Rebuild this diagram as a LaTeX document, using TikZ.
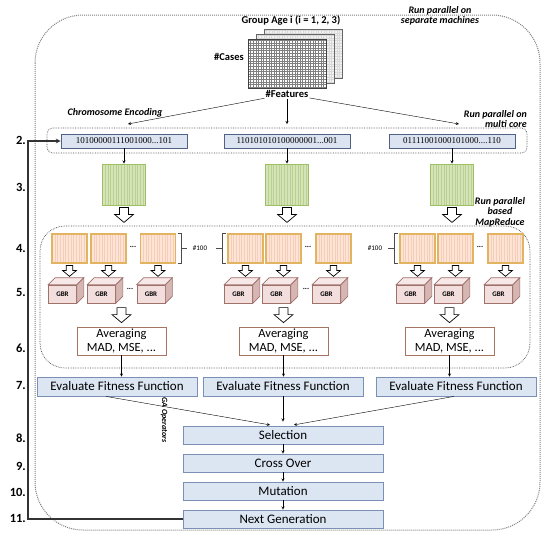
\documentclass[tikz,border=0pt]{standalone}
\usepackage{fontspec}
\setmainfont{Carlito}
\newfontfamily\bitfont{Liberation Serif}
\usetikzlibrary{calc}

\definecolor{chromofill}{HTML}{DCE3F1}
\definecolor{chromoline}{HTML}{4F6283}
\definecolor{evalfill}{HTML}{DCE6F2}
\definecolor{evalline}{HTML}{7A90B5}
\definecolor{greenfill}{HTML}{D5E4B8}
\definecolor{greenline}{HTML}{9FBF66}
\definecolor{greenstripe}{HTML}{B9D08E}
\definecolor{orangefill}{HTML}{FDE4D4}
\definecolor{orangeline}{HTML}{E2B461}
\definecolor{orangestripe}{HTML}{F5CDBB}
\definecolor{cubefront}{HTML}{F2DEDD}
\definecolor{cubeside}{HTML}{D6B6B3}
\definecolor{cubeline}{HTML}{A0706B}
\definecolor{avgline}{HTML}{A67461}

\tikzset{
  note/.style={font=\bfseries\itshape\fontsize{10}{10.5}\selectfont, align=center, inner sep=1pt},
  lbl/.style={font=\bfseries\fontsize{10.5}{12}\selectfont, inner sep=1pt},
  steplbl/.style={font=\bfseries\fontsize{12.5}{14}\selectfont, anchor=east, inner sep=0pt},
  chromo/.style={draw=chromoline, fill=chromofill, line width=0.8pt, minimum width=126pt,
    minimum height=14pt, inner sep=0pt, font=\bitfont\fontsize{9}{10}\selectfont},
  evalbox/.style={draw=evalline, fill=evalfill, line width=0.8pt, minimum width=160pt,
    minimum height=19pt, inner sep=0pt, font=\fontsize{13}{14}\selectfont},
  gabox/.style={evalbox, minimum width=200pt, minimum height=18pt},
  avgbox/.style={draw=avgline, fill=white, line width=0.8pt, minimum width=89pt,
    minimum height=28pt, inner sep=0.5pt, align=center, font=\fontsize{12.5}{13.5}\selectfont},
  stripes/.style 2 args={path picture={
    \foreach \s [evaluate=\s as \f using \s/(#1+1)] in {1,...,#1}
      \draw[#2, line width=0.3pt]
        ($(path picture bounding box.north west)!\f!(path picture bounding box.north east)$) --
        ($(path picture bounding box.south west)!\f!(path picture bounding box.south east)$);}},
  greengrid/.style={draw=greenline, fill=greenfill, line width=0.8pt, minimum width=43pt,
    minimum height=41pt, inner sep=0pt, stripes={15}{greenstripe}},
  orangegrid/.style={draw=orangeline, fill=orangefill, line width=1.1pt, minimum width=35pt,
    minimum height=29pt, inner sep=0pt, stripes={12}{orangestripe}},
  sheetfront/.style={draw=black!75, fill=white, line width=0.6pt, minimum width=78pt,
    minimum height=49pt, inner sep=0pt, path picture={
      \draw[black!50, line width=0.3pt, step=2.6pt] (path picture bounding box.south west)
        grid (path picture bounding box.north east);}},
  sheetback/.style={draw=black!60, fill=gray!10, line width=0.6pt, minimum width=78pt,
    minimum height=49pt, inner sep=0pt, path picture={
      \draw[gray!30, line width=0.3pt, step=2.6pt] (path picture bounding box.south west)
        grid (path picture bounding box.north east);}},
  gbr/.style={draw=cubeline, fill=cubefront, line width=0.7pt, minimum width=28pt,
    minimum height=18pt, inner sep=0pt, font=\bfseries\fontsize{7}{8}\selectfont},
  dots/.style={font=\bfseries\fontsize{8}{8}\selectfont, inner sep=0pt},
  tiny/.style={font=\fontsize{7}{8}\selectfont, inner sep=1pt},
  brk/.style={draw=black!70, line width=0.6pt},
  feedback/.style={draw=black!80, line width=1.1pt, ->},
  hollow/.pic={\draw[fill=white, line width=0.7pt] (-4.5,0) -- (4.5,0) -- (4.5,7) -- (9.5,7)
    -- (0,15) -- (-9.5,7) -- (-4.5,7) -- cycle;},
}

\newcommand{\gbrcube}[2]{%
  \node[gbr] (#1) at (#2) {GBR};
  \filldraw[draw=cubeline, fill=cubefront!70, line width=0.7pt] (#1.north west) -- ++(7,-7)
    -- ([shift={(7,-7)}]#1.north east) -- (#1.north east) -- cycle;
  \filldraw[draw=cubeline, fill=cubeside, line width=0.7pt] (#1.north east) -- ++(7,-7)
    -- ([shift={(7,-7)}]#1.south east) -- (#1.south east) -- cycle;
}

\begin{document}
\begin{tikzpicture}[x=1pt, y=-1pt, >=stealth]
  \useasboundingbox (0,0) rectangle (550,539);

  % === Outer frame ===
  \draw[gray, densely dotted, line width=1pt, rounded corners=48pt] (35,15) rectangle (540,530);
  \node[note] (machines) at (440,16) {Run parallel on\\separate machines};

  % === Input data stack ===
  \node[lbl] (group) at (291,20) {Group Age i (i = 1, 2, 3)};
  \node[sheetback] (sheet3) at (303,53.5) {};
  \node[sheetback] (sheet2) at (295,58.5) {};
  \node[sheetfront] (sheet1) at (287,63.5) {};
  \node[lbl, anchor=east] (cases) at (245,57) {\#Cases};
  \node[lbl] (feat) at (287,94) {\#Features};

  % === Chromosome encoding ===
  \coordinate (enc1) at (128,124);
  \coordinate (enc2) at (287,124);
  \coordinate (enc3) at (459,124);
  \draw[->] (feat) -- (enc1);
  \draw[->] (feat) -- (enc2);
  \draw[->] (feat) -- (enc3);
  \node[note] (enclbl) at (115,113) {Chromosome Encoding};
  \node[note, align=right, anchor=east] (multicore) at (528,119) {Run parallel on\\multi core};

  \draw[black!70, densely dotted, line width=0.7pt, rounded corners=6pt] (47,128) rectangle (527,153);
  \node[chromo] (c1) at (124,141) {10100000111001000...101};
  \node[chromo] (c2) at (287,141) {110101010100000001...001};
  \node[chromo] (c3) at (452,141) {01111001000101000....110};

  % === Step 3: population matrices ===
  \node[greengrid] (g1) at (124,184.5) {};
  \node[greengrid] (g2) at (287,184.5) {};
  \node[greengrid] (g3) at (452,184.5) {};
  \draw[->] (c1) -- (g1);
  \draw[->] (c2) -- (g2);
  \draw[->] (c3) -- (g3);
  \pic at ([yshift=-2pt]g1.south) {hollow};
  \pic at ([yshift=-2pt]g2.south) {hollow};
  \pic at ([yshift=-2pt]g3.south) {hollow};

  % === MapReduce block ===
  \draw[black!70, densely dotted, line width=0.7pt, rounded corners=25pt] (40,226) rectangle (530,368);
  \node[note] (mapred) at (500,212) {Run parallel\\based\\MapReduce};

  % === Steps 4-5: subsets and GBR models ===
  \foreach \n/\x in {11/69.5, 12/108.5, 13/158, 21/245.5, 22/283.5, 23/333.5,
                     31/417.5, 32/455.5, 33/505.5} {
    \node[orangegrid] (o\n) at (\x,248.5) {};
    \pic[scale=0.72] at ([yshift=-2pt]o\n.south) {hollow};
    \gbrcube{m\n}{\x-7,294}
  }
  \node[dots] (d1) at (133,247) {...};
  \node[dots] (d2) at (308,247) {...};
  \node[dots] (d3) at (480,247) {...};
  \node[dots] (d4) at (130,289) {...};
  \node[dots] (d5) at (306,289) {...};

  % brackets with #100
  \draw[brk] ([xshift=1.5pt]o13.north east) -- ++(4,0) -- ([xshift=5.5pt]o13.south east)
    -- ([xshift=1.5pt]o13.south east);
  \draw[brk] ([xshift=5.5pt]o13.east) -- ++(5,0);
  \node[tiny] (n1) at (200,248.5) {\#100};
  \draw[brk] ([xshift=-1.5pt]o21.north west) -- ++(-4,0) -- ([xshift=-5.5pt]o21.south west)
    -- ([xshift=-1.5pt]o21.south west);
  \draw[brk] ([xshift=-5.5pt]o21.west) -- ++(-6,0);
  \node[tiny] (n2) at (375,248.5) {\#100};
  \draw[brk] ([xshift=-1.5pt]o31.north west) -- ++(-4,0) -- ([xshift=-5.5pt]o31.south west)
    -- ([xshift=-1.5pt]o31.south west);
  \draw[brk] ([xshift=-5.5pt]o31.west) -- ++(-6,0);

  % === Step 6: averaging ===
  \node[avgbox] (a1) at (121.5,341) {Averaging\\MAD, MSE, ...};
  \node[avgbox] (a2) at (283.5,341) {Averaging\\MAD, MSE, ...};
  \node[avgbox] (a3) at (449.5,341) {Averaging\\MAD, MSE, ...};
  \pic at ([yshift=19pt]a1.north) {hollow};
  \pic at ([yshift=19pt]a2.north) {hollow};
  \pic at ([yshift=19pt]a3.north) {hollow};

  % === Step 7: fitness ===
  \node[evalbox] (e1) at (117,386.5) {Evaluate Fitness Function};
  \node[evalbox] (e2) at (283,386.5) {Evaluate Fitness Function};
  \node[evalbox] (e3) at (456,386.5) {Evaluate Fitness Function};
  \draw[->] (a1.south) -- (a1.south |- e1.north);
  \draw[->] (a2.south) -- (a2.south |- e2.north);
  \draw[->] (a3.south) -- (a3.south |- e3.north);

  % === Steps 8-11: GA operators ===
  \node[gabox] (sel) at (283,435) {Selection};
  \node[gabox] (cross) at (283,463) {Cross Over};
  \node[gabox] (mut) at (283,491) {Mutation};
  \node[gabox] (nextgen) at (283,519) {Next Generation};
  \draw[->, shorten >=4pt] ([xshift=-11pt]e1.south) -- ([xshift=-9pt]sel.north);
  \draw[->, shorten >=4pt] (e2.south) -- (sel.north);
  \draw[->, shorten >=4pt] ([xshift=-2pt]e3.south) -- ([xshift=7pt]sel.north);
  \draw[->] (sel) -- (cross);
  \draw[->] (cross) -- (mut);
  \draw[->] (mut) -- (nextgen);
  \node[note, font=\bfseries\itshape\fontsize{8}{9}\selectfont, rotate=-90] (gaop) at (164,420) {GA Operators};

  % === Loop back to encoding ===
  \coordinate (loop) at (28,519);
  \draw[feedback] (nextgen.west) -- (loop) |- (c1.west);

  % === Step numbers ===
  \foreach \n/\y in {2/140, 3/187, 4/248, 5/292, 6/348, 7/385, 8/438, 9/466, 10/492, 11/518}
    \node[steplbl] (step\n) at (26,\y) {\n.};

\end{tikzpicture}
\end{document}
